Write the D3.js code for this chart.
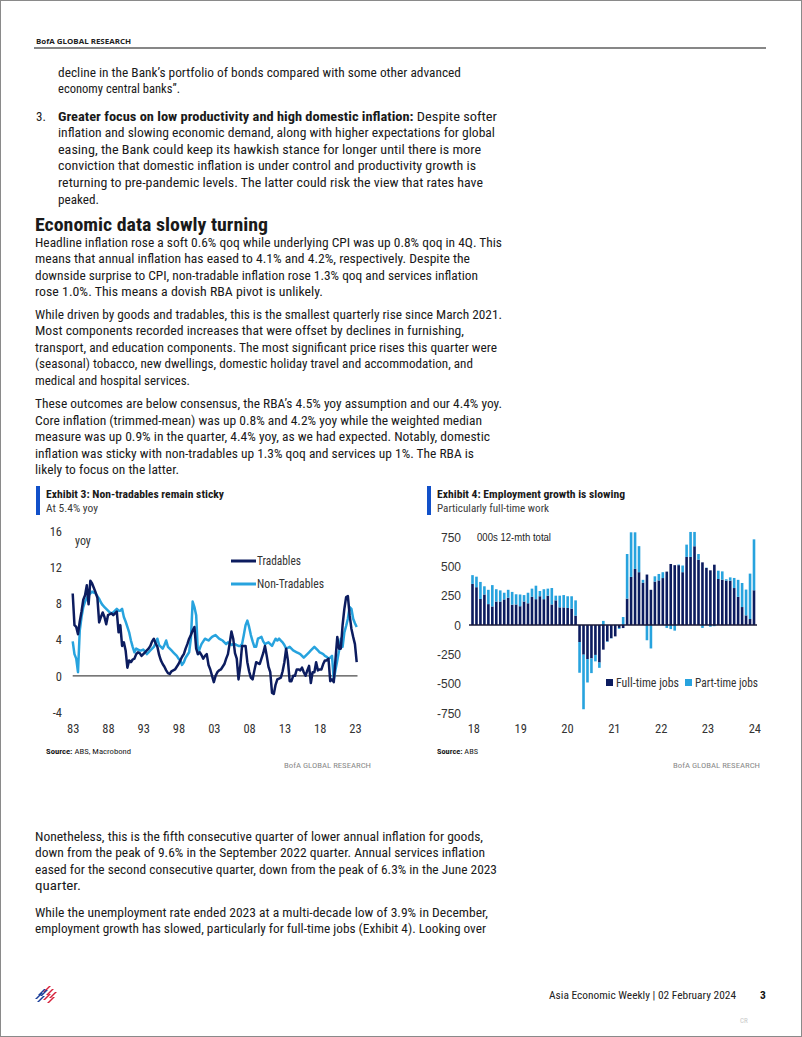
<!DOCTYPE html>
<html><head><meta charset="utf-8">
<script src="https://cdn.jsdelivr.net/npm/d3@7"></script>
<style>
html,body{margin:0;padding:0;background:#fff;}
svg{display:block;}
</style></head>
<body>
<svg id="page" width="802" height="1037"></svg>
<script>
// ---------------- DATA ----------------
// Exhibit 3: quarterly yoy %, starting 1983 Q1
const lineStartYear = 1983;
const tradables = [
 9.1,5.6,5.4,4.6, 6.0,7.1,8.4,8.9, 10.0,7.9,10.5,10.2, 9.7,9.2,8.6,5.9,
 6.5,7.0,6.5,5.7, 6.7,6.8,6.9,6.7, 6.9,7.1,4.8,5.6, 3.3,3.7,2.8,0.9,
 1.7,1.5,1.8,1.9, 2.4,2.6,2.5,2.2, 2.4,2.6,2.8,3.0, 3.3,3.8,4.1,3.6,
 3.2,2.3,1.7,1.3, 1.0,0.6,0.3,0.2, 0.5,0.6,0.7,1.0, 1.3,1.7,2.1,2.4,
 3.0,3.5,4.1,4.5, 5.0,5.4,3.0,2.4, 2.6,2.3,1.9,2.2, 2.4,1.2,0.7,0.0,
 -0.7,0.0,0.4,0.6, 0.7,1.0,1.3,1.9, 2.4,3.6,4.9,4.1, 2.5,1.9,-0.4,1.1,
 3.3,3.3,3.3,1.5, 0.5,-0.2,-0.4,0.6, 1.5,1.4,1.3,1.9, 2.5,3.3,2.2,1.0,
 0.4,-1.9,-2.0,-1.0, -0.4,-0.3,-0.2,0.5, 1.5,3.0,1.7,-0.6, -0.6,0.0,0.0,0.7,
 0.7,0.6,0.9,0.4, 0.0,0.6,1.1,-0.8, 0.4,0.4,1.5,0.6, 0.7,0.7,1.3,1.7,
 1.7,1.9,-0.6,-0.4, -0.7,1.9,4.3,3.0, 3.0,5.6,7.4,8.7, 8.8,6.7,5.2,4.3,
 3.5,1.5
];
const nonTradables = [
 3.8,2.4,1.9,0.4, 5.0,6.5,7.6,8.2, 8.6,8.9,9.1,9.3, 9.2,9.1,8.8,8.5,
 8.1,7.8,7.6,7.4, 7.2,7.0,6.9,7.0, 7.2,7.4,7.2,7.2, 7.4,6.5,6.0,5.4,
 4.8,3.9,3.2,2.6, 3.0,2.9,2.8,2.8, 2.9,2.7,2.4,2.6, 2.8,3.0,3.2,3.6,
 4.1,3.4,3.2,3.0, 3.4,3.9,3.2,3.0, 2.8,2.6,2.4,2.2, 1.9,1.7,1.2,1.5,
 2.0,2.3,2.6,4.1, 8.2,7.6,6.7,2.4, 3.0,3.5,3.8,4.1, 4.0,3.9,4.1,4.3,
 4.4,4.5,4.3,4.1, 4.0,3.9,3.7,3.5, 3.7,3.6,3.4,3.5, 3.5,3.4,3.3,3.3,
 3.5,4.5,5.6,6.1, 5.4,4.5,3.8,3.2, 3.2,4.1,4.2,4.3, 3.8,3.5,3.6,3.7,
 3.5,3.3,3.7,4.1, 3.9,4.1,3.9,3.7, 3.4,3.0,3.1,3.2, 3.0,2.8,2.7,2.6,
 2.5,2.4,2.2,2.0, 2.2,2.4,2.6,2.8, 3.0,3.2,3.0,2.8, 2.6,2.5,2.4,2.2,
 2.1,1.9,2.0,2.2, -0.4,0.7,1.7,2.8, 4.1,3.2,4.8,5.5, 6.3,7.6,7.4,6.3,
 5.8,5.4
];
const lineYTicks = [16, 12, 8, 4, 0, -4];
const lineXTicks = [1983, 1988, 1993, 1998, 2003, 2008, 2013, 2018, 2023];
const lineXTickLabels = ["83","88","93","98","03","08","13","18","23"];
const lineSeriesNames = ["Tradables", "Non-Tradables"];

// Exhibit 4: monthly, Jan 2018 .. Dec 2023, 000s 12-month change
const barStart = "2018-01";
const fullTime = [
 350,322,222,260,178,158,200,200,218,233,173,175,
 160,200,185,240,220,245,220,250,175,210,150,150,
 145,140,80,-145,-253,-290,-285,-255,-320,-210,-140,-112,
 -97,-25,-26,225,410,478,450,360,430,300,370,380,
 400,455,520,510,510,450,580,580,671,557,534,486,
 466,514,392,386,378,378,315,240,153,82,51,296
];
const partTime = [
 75,90,145,70,122,182,105,95,57,67,109,87,
 100,55,90,70,115,45,85,60,140,40,100,105,
 100,105,130,-262,-465,-200,-125,-55,-45,35,-5,-3,
 2,-8,68,380,380,312,222,25,-130,-200,45,55,
 50,-25,-35,-48,5,57,105,213,122,48,-25,3,
 -15,-10,71,71,12,28,86,145,205,220,387,434
];
const barYTicks = [750, 500, 250, 0, -250, -500, -750];
const barXTicks = [2018, 2019, 2020, 2021, 2022, 2023, 2024];
const barXTickLabels = ["18","19","20","21","22","23","24"];
const barSeriesNames = ["Full-time jobs", "Part-time jobs"];

// ---------------- STYLE ----------------
const BODY_FONT = "'Liberation Sans Narrow','Roboto Condensed','DejaVu Sans Condensed','Liberation Sans',sans-serif";
const ARIAL = "'Liberation Sans',Arial,sans-serif";
const DARK = "#0c1c5f";
const LIGHT = "#27a3de";
const TEXT = "#1a1a1a";
const plainNum = d => String(d); // hyphen-minus like the reference

const svg = d3.select("#page");
svg.append("rect").attr("x",0.5).attr("y",0.5).attr("width",801).attr("height",1036)
  .attr("fill","#fff").attr("stroke","#8a8a8a").attr("stroke-width",1);

// ---------------- PAGE TEXT ----------------
function textLine(t, x, cy, w, opts = {}) {
  const size = opts.size || 13;
  const el = svg.append("text")
    .attr("x", x).attr("y", cy + size * 0.35)
    .attr("font-family", opts.family || BODY_FONT)
    .attr("font-size", size)
    .attr("fill", opts.fill || TEXT)
    .attr("font-weight", opts.weight || "normal");
  if (opts.anchor) el.attr("text-anchor", opts.anchor);
  if (Array.isArray(t)) {
    t.forEach(p => el.append("tspan").attr("font-weight", p.b ? "bold" : "normal").text(p.t));
  } else el.text(t);
  if (w) el.attr("textLength", w).attr("lengthAdjust", "spacingAndGlyphs");
  return el;
}

// header
textLine("BofA GLOBAL RESEARCH", 36, 41, 95, {size: 7.5, weight: "bold", family: "'Open Sans','DejaVu Sans',sans-serif", fill:"#222"});
svg.append("line").attr("x1",34).attr("x2",766).attr("y1",48).attr("y2",48).attr("stroke","#111").attr("stroke-width",1.2);

const LS = 16.6;
const blocks = [
  {x:58, y:72, lines:[
    ["decline in the Bank’s portfolio of bonds compared with some other advanced", 403],
    ["economy central banks”.", 122]]},
  {x:58, y:116, lines:[
    [[{t:"Greater focus on low productivity and high domestic inflation:", b:true},{t:" Despite softer"}], 439],
    ["inflation and slowing economic demand, along with higher expectations for global", 437],
    ["easing, the Bank could keep its hawkish stance for longer until there is more", 423],
    ["conviction that domestic inflation is under control and productivity growth is", 418],
    ["returning to pre-pandemic levels. The latter could risk the view that rates have", 425],
    ["peaked.", 41]]},
  {x:35, y:242, lines:[
    ["Headline inflation rose a soft 0.6% qoq while underlying CPI was up 0.8% qoq in 4Q. This", 467],
    ["means that annual inflation has eased to 4.1% and 4.2%, respectively. Despite the", 435],
    ["downside surprise to CPI, non-tradable inflation rose 1.3% qoq and services inflation", 443],
    ["rose 1.0%. This means a dovish RBA pivot is unlikely.", 288]]},
  {x:35, y:314, lines:[
    ["While driven by goods and tradables, this is the smallest quarterly rise since March 2021.", 467],
    ["Most components recorded increases that were offset by declines in furnishing,", 429],
    ["transport, and education components. The most significant price rises this quarter were", 462],
    ["(seasonal) tobacco, new dwellings, domestic holiday travel and accommodation, and", 438],
    ["medical and hospital services.", 155]]},
  {x:35, y:403.5, lines:[
    ["These outcomes are below consensus, the RBA’s 4.5% yoy assumption and our 4.4% yoy.", 467],
    ["Core inflation (trimmed-mean) was up 0.8% and 4.2% yoy while the weighted median", 447],
    ["measure was up 0.9% in the quarter, 4.4% yoy, as we had expected. Notably, domestic", 455],
    ["inflation was sticky with non-tradables up 1.3% qoq and services up 1%. The RBA is", 439],
    ["likely to focus on the latter.", 144]]},
  {x:35, y:836, lines:[
    ["Nonetheless, this is the fifth consecutive quarter of lower annual inflation for goods,", 448],
    ["down from the peak of 9.6% in the September 2022 quarter. Annual services inflation", 450],
    ["eased for the second consecutive quarter, down from the peak of 6.3% in the June 2023", 462],
    ["quarter.", 46]]},
  {x:35, y:912, lines:[
    ["While the unemployment rate ended 2023 at a multi-decade low of 3.9% in December,", 453],
    ["employment growth has slowed, particularly for full-time jobs (Exhibit 4). Looking over", 451]]}
];
blocks.forEach(b => b.lines.forEach((l, i) => textLine(l[0], b.x, b.y + i * LS, l[1])));
textLine("3.", 36, 116, null);
textLine("Economic data slowly turning", 35, 224, 233, {size: 19, weight: "bold"});

// exhibit headers
function exhibitHeader(x, title, tw, sub, sw) {
  svg.append("rect").attr("x", x).attr("y", 486).attr("width", 4).attr("height", 29).attr("fill", "#1150c9");
  textLine(title, x + 10, 494, tw, {size: 11.5, weight: "bold"});
  textLine(sub, x + 10, 508, sw, {size: 11.5, fill: "#3a3a3a"});
}
exhibitHeader(36, "Exhibit 3: Non-tradables remain sticky", 178, "At 5.4% yoy", 52);
exhibitHeader(427, "Exhibit 4: Employment growth is slowing", 188, "Particularly full-time work", 112);

function sourceAndBrand(x, src, srcW, right) {
  textLine([{t:"Source:", b:true},{t:" " + src}], x, 751, srcW, {size: 8});
  textLine("BofA GLOBAL RESEARCH", right, 765, 87, {size: 8, anchor: "end", fill: "#8a8a8a"});
}
sourceAndBrand(46, "ABS, Macrobond", 85, 371);
sourceAndBrand(437, "ABS", 41, 760);

// ---------------- EXHIBIT 3: LINE CHART ----------------
const x3 = d3.scaleLinear().domain([lineStartYear, lineStartYear + (tradables.length - 1) / 4]).range([72.7, 356.7]);
const y3 = d3.scaleLinear().domain([-4, 16]).range([712, 531]);
const g3 = svg.append("g");

const yAxis3 = d3.axisLeft(y3).tickValues(lineYTicks).tickSize(0).tickPadding(0).tickFormat(plainNum);
g3.append("g").attr("transform", "translate(62,0)").call(yAxis3)
  .call(g => g.select(".domain").remove())
  .selectAll("text").attr("font-family", BODY_FONT).attr("font-size", 12.5).attr("fill", "#333").attr("dy", "0.35em");

const xAxis3 = d3.axisBottom(x3).tickValues(lineXTicks).tickSize(0).tickPadding(0)
  .tickFormat((d, i) => lineXTickLabels[i]);
g3.append("g").attr("transform", "translate(0,729)").call(xAxis3)
  .call(g => g.select(".domain").remove())
  .selectAll("text").attr("font-family", BODY_FONT).attr("font-size", 12.5).attr("fill", "#333").attr("dy", "0.35em");

textLine("yoy", 75, 541, null, {size: 12, fill: "#333"});

g3.append("line").attr("x1", x3.range()[0]).attr("x2", 357.5)
  .attr("y1", y3(0)).attr("y2", y3(0)).attr("stroke", "#4a4a4a").attr("stroke-width", 1.3);

const line3 = d3.line().x((d, i) => x3(lineStartYear + i / 4)).y(d => y3(d));
g3.append("path").datum(nonTradables).attr("d", line3).attr("fill", "none")
  .attr("stroke", LIGHT).attr("stroke-width", 2.5).attr("stroke-linejoin", "round");
g3.append("path").datum(tradables).attr("d", line3).attr("fill", "none")
  .attr("stroke", DARK).attr("stroke-width", 2.5).attr("stroke-linejoin", "round");

// legend
[[lineSeriesNames[0], DARK, 561, 44], [lineSeriesNames[1], LIGHT, 584, 67]].forEach(([name, c, cy, w]) => {
  g3.append("line").attr("x1", 231).attr("x2", 256).attr("y1", cy).attr("y2", cy).attr("stroke", c).attr("stroke-width", 3);
  textLine(name, 257, cy, w, {size: 12, fill: "#333"});
});

// ---------------- EXHIBIT 4: STACKED BARS ----------------
const months = fullTime.map((_, i) => i);
const xBar = d3.scaleLinear().domain([0, fullTime.length - 1]).range([472.5, 754]);
const xYear = d3.scaleLinear().domain([2018, 2024]).range([473.3, 754.3]);
const y4 = d3.scaleLinear().domain([-750, 750]).range([713, 537]);
const g4 = svg.append("g");

const rows = months.map(i => ({ft: fullTime[i], pt: partTime[i], i}));
const stack = d3.stack().keys(["ft", "pt"]).offset(d3.stackOffsetDiverging);
const series = stack(rows);
const colors = {ft: DARK, pt: LIGHT};
const bw = 2.6;
series.forEach(s => {
  g4.append("g").attr("fill", colors[s.key]).selectAll("rect").data(s).join("rect")
    .attr("x", d => xBar(d.data.i) - bw / 2)
    .attr("width", bw)
    .attr("y", d => y4(Math.max(d[0], d[1])))
    .attr("height", d => Math.abs(y4(d[0]) - y4(d[1])));
});

g4.append("line").attr("x1", 469).attr("x2", 757).attr("y1", y4(0)).attr("y2", y4(0))
  .attr("stroke", "#1b1b3a").attr("stroke-width", 1.3);

const yAxis4 = d3.axisLeft(y4).tickValues(barYTicks).tickSize(0).tickPadding(0).tickFormat(plainNum);
g4.append("g").attr("transform", "translate(461,0)").call(yAxis4)
  .call(g => g.select(".domain").remove())
  .selectAll("text").attr("font-family", ARIAL).attr("font-size", 12).attr("fill", "#333").attr("dy", "0.35em");

const xAxis4 = d3.axisBottom(xYear).tickValues(barXTicks).tickSize(0).tickPadding(0)
  .tickFormat((d, i) => barXTickLabels[i]);
g4.append("g").attr("transform", "translate(0,729)").call(xAxis4)
  .call(g => g.select(".domain").remove())
  .selectAll("text").attr("font-family", BODY_FONT).attr("font-size", 12.5).attr("fill", "#333").attr("dy", "0.35em");

textLine("000s 12-mth total", 477, 537, 74, {size: 11, family: ARIAL, fill: "#222"});

[[barSeriesNames[0], DARK, 606, 63], [barSeriesNames[1], LIGHT, 685, 63]].forEach(([name, c, x, w]) => {
  g4.append("rect").attr("x", x).attr("y", 679).attr("width", 7).attr("height", 7).attr("fill", c);
  textLine(name, x + 10, 682.5, w, {size: 12, fill: "#333"});
});

// ---------------- FOOTER ----------------
const logo = svg.append("g").attr("transform", "translate(34,986)");
const stripes = [
  {x:4, y:3, c:"#1b3f9a"}, {x:9, y:0, c:"#d6213a"}, {x:1, y:7, c:"#1b3f9a"},
  {x:6, y:4, c:"#1b3f9a"}, {x:12, y:3, c:"#d6213a"}, {x:3, y:10, c:"#1b3f9a"},
  {x:9, y:8, c:"#d6213a"}, {x:15, y:6, c:"#d6213a"}, {x:13, y:11, c:"#d6213a"}
];
stripes.forEach(s => {
  logo.append("polygon")
    .attr("points", `${s.x},${s.y+6} ${s.x+2},${s.y+6} ${s.x+8},${s.y} ${s.x+6},${s.y}`)
    .attr("fill", s.c);
});
textLine("Asia Economic Weekly | 02 February 2024", 736, 995, 187, {size: 11.5, anchor: "end", fill: "#222"});
textLine("3", 760, 995, null, {size: 11.5, weight: "bold", fill: "#111"});
textLine("CR", 740, 1021, null, {size: 7, fill: "#c8c8c8"});
</script>
</body></html>
